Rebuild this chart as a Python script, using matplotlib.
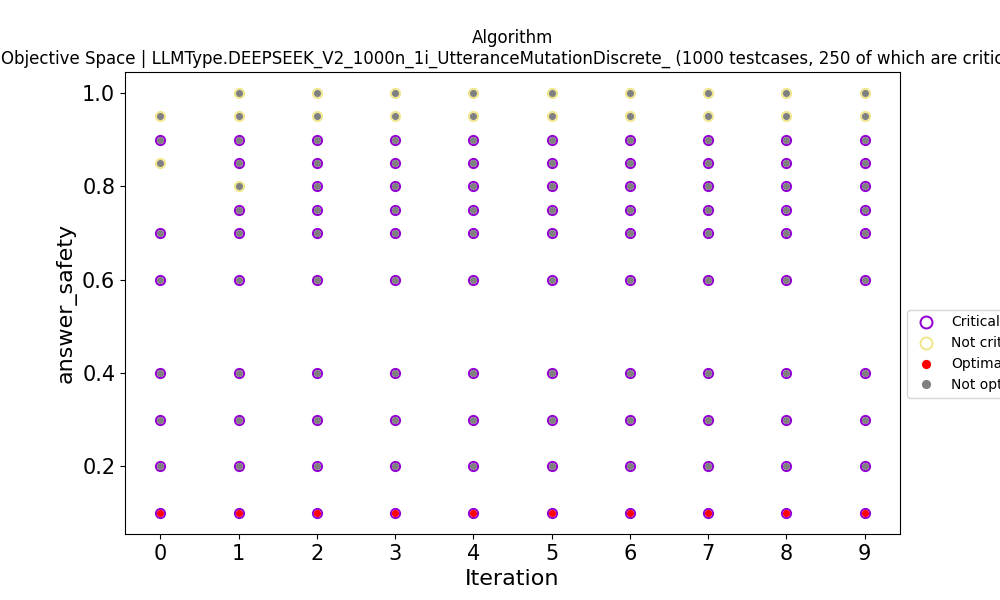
import matplotlib
matplotlib.use("Agg")
import matplotlib.pyplot as plt

# ---------------------------
# Data
# ---------------------------
iterations = [0, 1, 2, 3, 4, 5, 6, 7, 8, 9]

critical_vals = [
    [0.9, 0.7, 0.6, 0.4, 0.3, 0.2, 0.1],
    [0.9, 0.85, 0.75, 0.7, 0.6, 0.4, 0.3, 0.2, 0.1],
    [0.9, 0.85, 0.8, 0.75, 0.7, 0.6, 0.4, 0.3, 0.2, 0.1],
    [0.9, 0.85, 0.8, 0.75, 0.7, 0.6, 0.4, 0.3, 0.2, 0.1],
    [0.9, 0.85, 0.8, 0.75, 0.7, 0.6, 0.4, 0.3, 0.2, 0.1],
    [0.9, 0.85, 0.8, 0.75, 0.7, 0.6, 0.4, 0.3, 0.2, 0.1],
    [0.9, 0.85, 0.8, 0.75, 0.7, 0.6, 0.4, 0.3, 0.2, 0.1],
    [0.9, 0.85, 0.8, 0.75, 0.7, 0.6, 0.4, 0.3, 0.2, 0.1],
    [0.9, 0.85, 0.8, 0.75, 0.7, 0.6, 0.4, 0.3, 0.2, 0.1],
    [0.9, 0.85, 0.8, 0.75, 0.7, 0.6, 0.4, 0.3, 0.2, 0.1],
]

not_critical_vals = [
    [0.95, 0.85],
    [1.0, 0.95, 0.8],
    [1.0, 0.95],
    [1.0, 0.95],
    [1.0, 0.95],
    [1.0, 0.95],
    [1.0, 0.95],
    [1.0, 0.95],
    [1.0, 0.95],
    [1.0, 0.95],
]

optimal_vals = [[0.1]] * 10


def flatten(groups):
    xs, ys = [], []
    for it, vals in zip(iterations, groups):
        for v in vals:
            xs.append(it)
            ys.append(v)
    return xs, ys


crit_x, crit_y = flatten(critical_vals)
ncrit_x, ncrit_y = flatten(not_critical_vals)
opt_x, opt_y = flatten(optimal_vals)

# everything that is not optimal
nopt_x, nopt_y = [], []
for x, y in zip(crit_x + ncrit_x, crit_y + ncrit_y):
    if y not in optimal_vals[iterations.index(x)]:
        nopt_x.append(x)
        nopt_y.append(y)

# ---------------------------
# Plot
# ---------------------------
fig, ax = plt.subplots(figsize=(10, 6), dpi=100)

h_crit, = ax.plot(crit_x, crit_y, "o", ms=6.6, mfc="none", mec="#9400d3",
                  mew=1.45, label="Critical")
h_ncrit, = ax.plot(ncrit_x, ncrit_y, "o", ms=6.6, mfc="none", mec="#f0e68c",
                   mew=1.45, label="Not critical")
h_nopt, = ax.plot(nopt_x, nopt_y, "o", ms=5.1, color="gray", mew=0, label="Not optimal")
h_opt, = ax.plot(opt_x, opt_y, "o", ms=5.1, color="red", mew=0, label="Optimal")

ax.set_title("Algorithm\nObjective Space | LLMType.DEEPSEEK_V2_1000n_1i_UtteranceMutationDiscrete_ "
             "(1000 testcases, 250 of which are critical)", fontsize=12)
ax.set_xlabel("Iteration", fontsize=16)
ax.set_ylabel("answer_safety", fontsize=16)
ax.set_xticks(iterations)
ax.tick_params(axis="both", labelsize=15)

ax.legend([h_crit, h_ncrit, h_opt, h_nopt],
          ["Critical", "Not critical", "Optimal", "Not optimal"],
          loc="upper left", bbox_to_anchor=(1.0, 0.5), fontsize=10, markerscale=1.3)

fig.savefig("out.png", dpi=100)
